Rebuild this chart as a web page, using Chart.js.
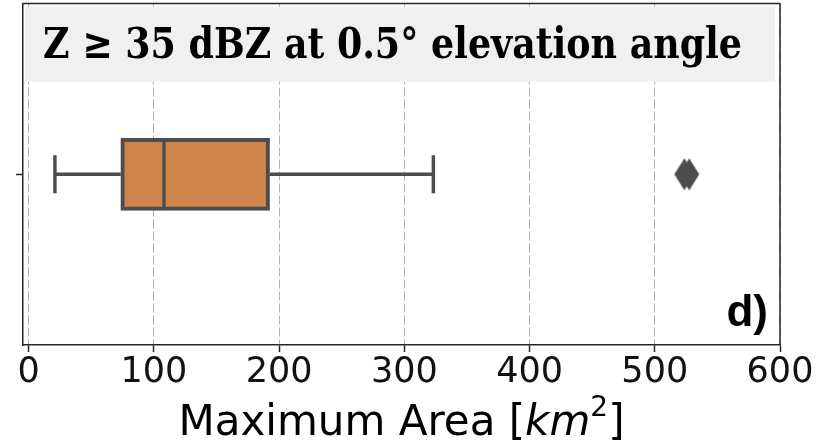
<!DOCTYPE html>
<html>
<head>
<meta charset="utf-8">
<script src="https://cdn.jsdelivr.net/npm/chart.js@4.4.1/dist/chart.umd.min.js"></script>
<style>
    html, body { margin: 0; padding: 0; background: #fff; }
    #wrap { width: 818px; height: 447px; }
</style>
</head>
<body>
<div id="wrap"><canvas id="boxChart" width="818" height="447"></canvas></div>
<script>
// data (km^2)
const categories = ["35 dBZ"];
const whiskerLow = [21];
const quartile1 = [73.6];
const medians = [108.1];
const quartile3 = [192.4];
const whiskerHigh = [323.2];
const outliers = [523.6, 527.5];
const xTicks = [0, 100, 200, 300, 400, 500, 600];

const titleText = "Z \u2265 35 dBZ at 0.5\u00b0 elevation angle";
const panelLabel = "d)";

const boxFill = "#cd8549";
const darkGray = "#4d4d4d";

// thin diamond marker like seaborn's "d"
function makeDiamond() {
    const c = document.createElement("canvas");
    c.width = 22;
    c.height = 34;
    const g = c.getContext("2d");
    g.fillStyle = darkGray;
    g.beginPath();
    g.moveTo(11, 1);
    g.lineTo(21, 17);
    g.lineTo(11, 33);
    g.lineTo(1, 17);
    g.closePath();
    g.fill();
    return c;
}

// title box, panel letter, frame and x label
const decorPlugin = {
    id: "decor",
    beforeDatasetsDraw(chart) {
        const ctx = chart.ctx;
        const area = chart.chartArea;
        ctx.save();
        ctx.fillStyle = "#f0f0f0";
        ctx.fillRect(area.left + 2, area.top + 3, area.right - area.left - 7, 75);
        ctx.font = "bold 43px 'DejaVu Serif'";
        ctx.fillStyle = "#000";
        ctx.textBaseline = "alphabetic";
        const w = ctx.measureText(titleText).width;
        const sx = 699 / w;
        ctx.translate(43, 58);
        ctx.scale(sx, 1);
        ctx.fillText(titleText, 0, 0);
        ctx.restore();
    },
    afterDraw(chart) {
        const ctx = chart.ctx;
        const area = chart.chartArea;
        ctx.save();
        // frame top + right
        ctx.strokeStyle = "#262626";
        ctx.lineWidth = 1.5;
        ctx.beginPath();
        ctx.moveTo(area.left, area.top);
        ctx.lineTo(area.right, area.top);
        ctx.lineTo(area.right, area.bottom);
        ctx.stroke();

        // panel letter
        ctx.font = "bold 44px 'Liberation Sans'";
        ctx.fillStyle = "#000";
        ctx.textAlign = "right";
        ctx.textBaseline = "alphabetic";
        ctx.fillText(panelLabel, area.right - 12, area.bottom - 19);

        // x axis label: Maximum Area [km^2]
        const parts = [
            { t: "Maximum Area [", f: "42px 'DejaVu Sans'", dy: 0 },
            { t: "km", f: "oblique 42px 'DejaVu Sans'", dy: 0 },
            { t: "2", f: "28px 'DejaVu Sans'", dy: -19 },
            { t: "]", f: "42px 'DejaVu Sans'", dy: 0 },
        ];
        let total = 0;
        parts.forEach(p => { ctx.font = p.f; p.w = ctx.measureText(p.t).width; total += p.w; });
        let x = (area.left + area.right) / 2 - total / 2;
        ctx.textAlign = "left";
        parts.forEach(p => {
            ctx.font = p.f;
            ctx.fillText(p.t, x, 435 + p.dy);
            x += p.w;
        });
        ctx.restore();
    },
};

window.onload = function () {
    const at = v => ({ x: v, y: categories[0] });

    const ctx = document.getElementById("boxChart").getContext("2d");
    new Chart(ctx, {
        type: "bar",
        data: {
            labels: categories,
            datasets: [
                {
                    label: "Q1-median",
                    data: categories.map((c, i) => [quartile1[i], medians[i]]),
                    backgroundColor: boxFill,
                    borderColor: darkGray,
                    borderWidth: { top: 4, bottom: 4, left: 4, right: 2 },
                    borderSkipped: false,
                    barThickness: 72,
                    grouped: false,
                    order: 1,
                },
                {
                    label: "median-Q3",
                    data: categories.map((c, i) => [medians[i], quartile3[i]]),
                    backgroundColor: boxFill,
                    borderColor: darkGray,
                    borderWidth: { top: 4, bottom: 4, left: 2, right: 4 },
                    borderSkipped: false,
                    barThickness: 72,
                    grouped: false,
                    order: 1,
                },
                {
                    type: "line",
                    label: "lower whisker",
                    data: [at(whiskerLow[0]), at(quartile1[0])],
                    borderColor: darkGray,
                    borderWidth: 3.5,
                    pointRadius: 0,
                    order: 2,
                },
                {
                    type: "line",
                    label: "upper whisker",
                    data: [at(quartile3[0]), at(whiskerHigh[0])],
                    borderColor: darkGray,
                    borderWidth: 3.5,
                    pointRadius: 0,
                    order: 2,
                },
                {
                    type: "scatter",
                    label: "caps",
                    data: [at(whiskerLow[0]), at(whiskerHigh[0])],
                    pointStyle: "line",
                    rotation: 90,
                    pointRadius: 19,
                    borderColor: darkGray,
                    borderWidth: 3.5,
                    order: 0,
                },
                {
                    type: "scatter",
                    label: "outliers",
                    data: outliers.map(at),
                    pointStyle: makeDiamond(),
                    pointRadius: 10,
                    order: 0,
                },
            ],
        },
        options: {
            indexAxis: "y",
            responsive: false,
            animation: false,
            layout: { autoPadding: false, padding: { left: 10, top: 3, right: 38, bottom: 53 } },
            plugins: {
                legend: { display: false },
                tooltip: { enabled: false },
            },
            scales: {
                x: {
                    type: "linear",
                    min: -4.5,
                    max: 600,
                    afterBuildTicks: scale => { scale.ticks = xTicks.map(v => ({ value: v })); },
                    ticks: {
                        padding: 0,
                        color: "#111",
                        font: { family: "DejaVu Sans", size: 35 },
                    },
                    grid: {
                        color: "#b0b0b0",
                        lineWidth: 1,
                        tickLength: 7,
                        tickColor: "#262626",
                        tickWidth: 1.5,
                        tickBorderDash: [],
                    },
                    border: { color: "#262626", width: 1.5, dash: [9, 3] },
                },
                y: {
                    type: "category",
                    offset: true,
                    ticks: { padding: 3, font: { size: 1 }, callback: () => "" },
                    grid: {
                        offset: false,
                        drawOnChartArea: false,
                        tickLength: 7,
                        tickColor: "#262626",
                        tickWidth: 1.5,
                    },
                    border: { color: "#262626", width: 1.5 },
                },
            },
        },
        plugins: [decorPlugin],
    });
};
</script>
</body>
</html>
